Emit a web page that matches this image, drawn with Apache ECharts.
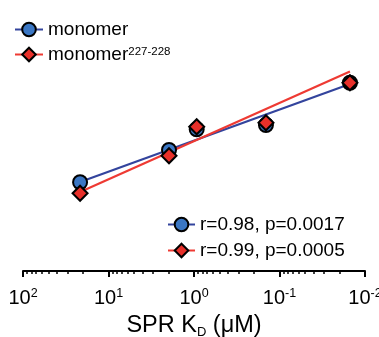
<!DOCTYPE html>
<html>
<head>
<meta charset="utf-8">
<style>html,body{margin:0;padding:0;background:#fff;}#c{width:379px;height:337px;}</style>
<script src="https://cdn.jsdelivr.net/npm/echarts@6/dist/echarts.min.js"></script>
</head>
<body>
<div id="c"></div>
<script>
// SPR KD (µM) for the five constructs
const kdValues = [21.5, 1.96, 0.93, 0.144, 0.015];
// response (arbitrary units, y axis hidden)
const monomerY = [35.5, 48.4, 56.7, 58.4, 75.3];
const mutantY = [31.1, 46.1, 57.7, 59.3, 75.3];
// fitted lines: value at first and last KD
const fitX = [21.5, 0.015];
const monomerFitY = [35.6, 74.8];
const mutantFitY = [31.6, 79.8];
// axis
const majorTicks = [100, 10, 1, 0.1, 0.01];
const seriesNames = ['monomer', 'monomer227'];
const statsText = ['r=0.98, p=0.0017', 'r=0.99, p=0.0005'];

const minorTicks = [];
for (let d = -2; d < 2; d++) {
  for (let k = 2; k <= 9; k++) minorTicks.push(+(k * Math.pow(10, d)).toPrecision(3));
}

const FONT = '"Liberation Sans", Arial, sans-serif';
const BLUE_FILL = '#3b77c4', BLUE_LINE = '#33449d';
const RED_FILL = '#e8302a', RED_LINE = '#ee3a33';

const chart = echarts.init(document.getElementById('c'), null, {renderer: 'canvas'});
const pairs = (xs, ys) => xs.map((x, i) => [x, ys[i]]);

chart.setOption({
  animation: false,
  grid: {left: 23, right: 14, top: 21, bottom: 66, outerBoundsMode: 'none', containLabel: false},
  legend: [{
    data: seriesNames,
    orient: 'vertical',
    left: 14, top: 20, padding: 0,
    itemWidth: 28, itemHeight: 17, itemGap: 6,
    textStyle: {fontFamily: FONT, fontSize: 19, color: '#000', lineHeight: 17,
      rich: {m: {fontFamily: FONT, fontSize: 19, color: '#000', lineHeight: 17},
             s: {fontFamily: FONT, fontSize: 11.5, color: '#000', lineHeight: 17, verticalAlign: 'top', padding: [0,0,6,0]}}},
    formatter: n => n === 'monomer' ? 'monomer' : '{m|monomer}{s|227-228}',
    selectedMode: false
  }, {
    data: seriesNames,
    orient: 'vertical',
    left: 167, top: 215, padding: 0,
    itemWidth: 27, itemHeight: 17, itemGap: 7,
    textStyle: {fontFamily: FONT, fontSize: 19, color: '#000', lineHeight: 17},
    formatter: n => statsText[seriesNames.indexOf(n)],
    selectedMode: false
  }],
  xAxis: [{
    type: 'log', logBase: 10, min: 0.01, max: 100, inverse: true,
    position: 'bottom',
    axisLine: {show: true, lineStyle: {color: '#000', width: 2}},
    axisTick: {show: true, length: 6, lineStyle: {color: '#000', width: 2}, customValues: majorTicks},
    axisLabel: {
      customValues: majorTicks,
      margin: 16,
      formatter: v => '{b|10}{s|' + Math.round(Math.log10(v)) + '}',
      rich: {b: {fontFamily: FONT, fontSize: 20, color: '#000', lineHeight: 22},
             s: {fontFamily: FONT, fontSize: 12.5, color: '#000', verticalAlign: 'top', padding: [0,0,8,0]}}
    },
    splitLine: {show: false},
    name: '{a|SPR K}{d|D}{a| (\u03bcM)}',
    nameLocation: 'middle', nameGap: 41,
    nameTextStyle: {rich: {a: {fontFamily: FONT, fontSize: 23.5, color: '#000', lineHeight: 26},
                           d: {fontFamily: FONT, fontSize: 13, color: '#000', lineHeight: 26, verticalAlign: 'bottom', padding: [13,0,0,0]}}}
  }, {
    type: 'log', logBase: 10, min: 0.01, max: 100, inverse: true,
    position: 'bottom',
    axisLine: {show: false},
    axisTick: {show: true, length: 3, lineStyle: {color: '#000', width: 1.5}, customValues: minorTicks},
    axisLabel: {show: false},
    splitLine: {show: false}
  }],
  yAxis: {type: 'value', min: 0, max: 100, show: false},
  series: [{
    name: 'monomer', type: 'line', data: pairs(fitX, monomerFitY),
    symbol: 'circle', symbolSize: 13, showSymbol: false,
    itemStyle: {color: BLUE_FILL, borderColor: '#000', borderWidth: 1.8},
    lineStyle: {color: BLUE_LINE, width: 2.2}, z: 2, silent: true
  }, {
    name: 'monomer227', type: 'line', data: pairs(fitX, mutantFitY),
    symbol: 'diamond', symbolSize: 13, showSymbol: false,
    itemStyle: {color: RED_FILL, borderColor: '#000', borderWidth: 1.8},
    lineStyle: {color: RED_LINE, width: 2.2}, z: 2, silent: true
  }, {
    name: 'monomerPts', type: 'scatter', data: pairs(kdValues, monomerY),
    symbol: 'circle', symbolSize: 14,
    itemStyle: {color: BLUE_FILL, borderColor: '#000', borderWidth: 2, opacity: 1}, z: 3
  }, {
    name: 'mutantPts', type: 'scatter', data: pairs(kdValues, mutantY),
    symbol: 'diamond', symbolSize: 15,
    itemStyle: {color: RED_FILL, borderColor: '#000', borderWidth: 2, opacity: 1}, z: 4
  }]
});
</script>
</body>
</html>
